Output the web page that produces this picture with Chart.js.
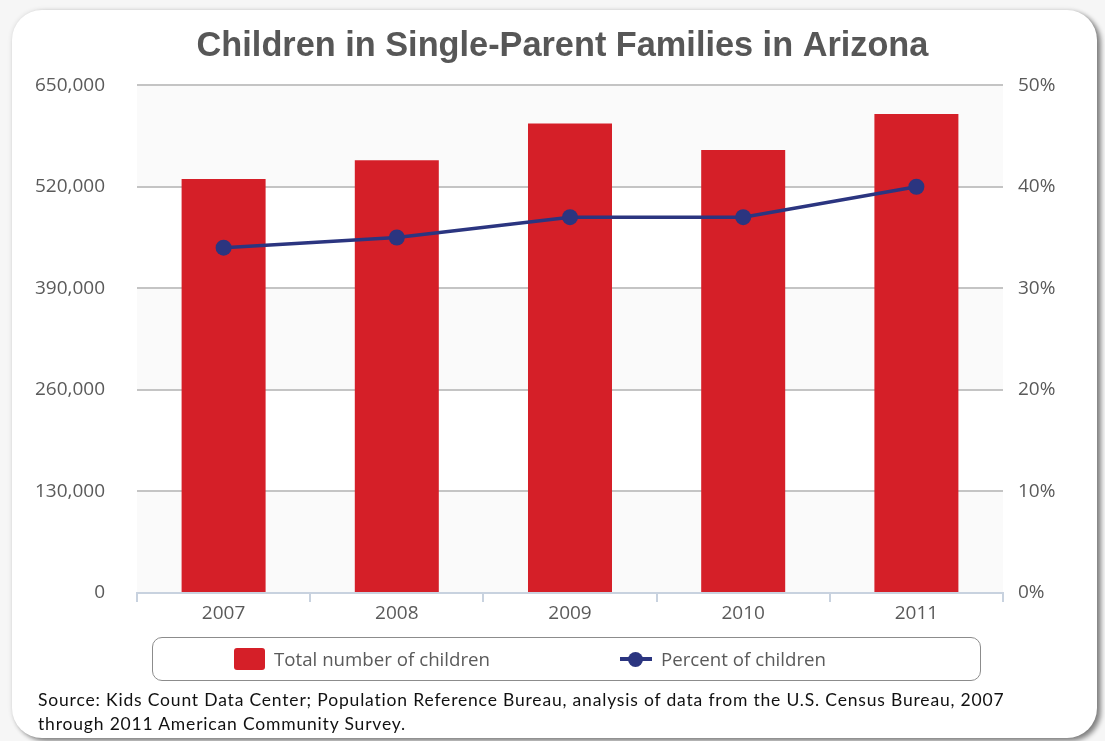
<!DOCTYPE html>
<html>
<head>
<meta charset="utf-8">
<script src="https://cdn.jsdelivr.net/npm/chart.js@4.4.1/dist/chart.umd.min.js"></script>
<style>
  html, body { margin: 0; padding: 0; background: #ffffff; }
  #wrap { position: relative; width: 1105px; height: 741px; overflow: hidden; background: #f6f6f6; }
  #card { position: absolute; left: 12px; top: 10px; width: 1085px; height: 728px; background: #fff;
          border-radius: 30px; box-shadow: 4px 3px 5px rgba(0,0,0,0.45), 0 0 5px rgba(0,0,0,0.12); }
  #chart { position: absolute; left: 0; top: 0; }
  #legend { position: absolute; left: 152px; top: 637px; width: 827px; height: 42px;
            border: 1.6px solid #8c8c8c; border-radius: 10px; background: #fff;
            font-family: "Open Sans", sans-serif; font-size: 18.7px; color: #5a5a5a; }
  .item { position: absolute; top: 0; height: 42px; line-height: 42px; white-space: nowrap; }
  .sw { position: absolute; }
  #source { position: absolute; left: 38px; top: 688px; font-family: Lato, sans-serif; font-size: 17.5px;
            line-height: 24px; color: #111; white-space: nowrap; letter-spacing: 0.82px; }
</style>
</head>
<body>
<div id="wrap">
  <div id="card"></div>
  <canvas id="chart" width="1105" height="741"></canvas>
  <div id="legend">
    <div class="item" id="leg1" style="left:81px;">
      <span class="sw" style="left:0;top:10px;width:31px;height:22px;background:#d51f28;border-radius:3px;"></span>
      <span style="position:absolute;left:40px;" id="leg1t"></span>
    </div>
    <div class="item" id="leg2" style="left:467px;">
      <span class="sw" style="left:0;top:19px;width:32px;height:4px;background:#2b3580;"></span>
      <span class="sw" style="left:8px;top:13.5px;width:15px;height:15px;background:#2b3580;border-radius:50%;"></span>
      <span style="position:absolute;left:41px;" id="leg2t"></span>
    </div>
  </div>
  <div id="source">Source: Kids Count Data Center; Population Reference Bureau, analysis of data from the U.S. Census Bureau, 2007<br>through 2011 American Community Survey.</div>
</div>
<script>
const titleText = "Children in Single-Parent Families in Arizona";
const years = ["2007", "2008", "2009", "2010", "2011"];
const totalChildren = [530000, 554000, 601000, 567000, 613000];
const percentChildren = [34, 35, 37, 37, 40];
const seriesNames = ["Total number of children", "Percent of children"];
const countTicks = [0, 130000, 260000, 390000, 520000, 650000];
const percentTicks = [0, 10, 20, 30, 40, 50];

document.getElementById('leg1t').textContent = seriesNames[0];
document.getElementById('leg2t').textContent = seriesNames[1];

const tickFont = { family: "'Open Sans', sans-serif", size: 19 };
const tickColor = '#5a5a5a';

const bandFirst = {
  id: 'bandFirst',
  beforeDraw(chart) {
    const { ctx, chartArea, scales } = chart;
    if (!chartArea) return;
    const y = scales.y;
    ctx.save();
    ctx.fillStyle = '#fafafa';
    for (let i = 0; i < countTicks.length - 1; i += 2) {
      const top = y.getPixelForValue(countTicks[i + 1]);
      const bottom = y.getPixelForValue(countTicks[i]);
      ctx.fillRect(chartArea.left, top, chartArea.right - chartArea.left, bottom - top);
    }
    ctx.restore();
  }
};

new Chart(document.getElementById('chart'), {
  data: {
    labels: years,
    datasets: [
      {
        type: 'line',
        label: seriesNames[1],
        data: percentChildren,
        yAxisID: 'y2',
        borderColor: '#2b3580',
        backgroundColor: '#2b3580',
        borderWidth: 3.5,
        pointRadius: 8,
        pointHoverRadius: 8,
        pointBackgroundColor: '#2b3580',
        pointBorderWidth: 0,
        tension: 0,
        order: 0
      },
      {
        type: 'bar',
        label: seriesNames[0],
        data: totalChildren,
        yAxisID: 'y',
        backgroundColor: '#d51f28',
        borderWidth: 0,
        categoryPercentage: 1,
        barPercentage: 0.485,
        order: 1
      }
    ]
  },
  options: {
    responsive: false,
    animation: false,
    layout: { padding: { left: 20, right: 0, top: 0, bottom: 118 } },
    plugins: {
      legend: { display: false },
      tooltip: { enabled: false },
      title: {
        display: true,
        text: titleText,
        color: '#575757',
        font: { family: "'Liberation Sans', Arial, sans-serif", size: 34.3, weight: 'bold' },
        padding: { top: 26, bottom: 18 }
      }
    },
    scales: {
      x: {
        afterFit(s) { s.height = 30; },
        grid: { drawOnChartArea: false, drawTicks: true, tickLength: 9, color: '#c8d2df', lineWidth: 2, offset: true },
        border: { display: true, color: '#c8d2df', width: 2 },
        ticks: { color: tickColor, font: tickFont, padding: 0, maxRotation: 0 }
      },
      y: {
        position: 'left',
        min: 0, max: 650000,
        afterFit(s) { s.width = 117; },
        afterBuildTicks(s) { s.ticks = countTicks.map(v => ({ value: v })); },
        grid: { color: '#c4c4c4', lineWidth: 2, drawTicks: false },
        border: { display: false },
        ticks: { color: tickColor, font: tickFont, padding: 32,
                 callback: v => v.toLocaleString('en-US') }
      },
      y2: {
        position: 'right',
        min: 0, max: 50,
        afterFit(s) { s.width = 102; },
        afterBuildTicks(s) { s.ticks = percentTicks.map(v => ({ value: v })); },
        grid: { drawOnChartArea: false, drawTicks: false },
        border: { display: false },
        ticks: { color: tickColor, font: tickFont, padding: 15, callback: v => v + '%' }
      }
    }
  },
  plugins: [bandFirst]
});
</script>
</body>
</html>
